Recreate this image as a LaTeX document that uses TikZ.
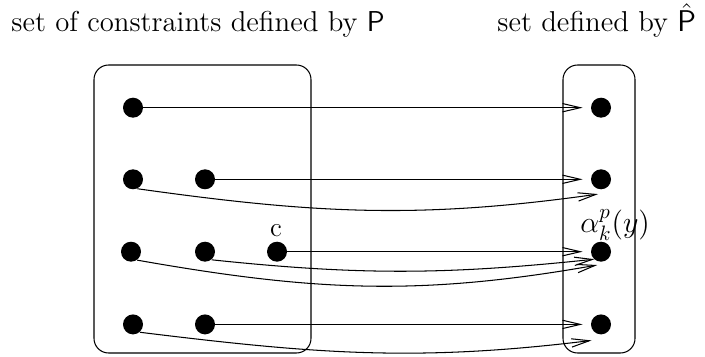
\documentclass[tikz,border=0pt]{standalone}
\usepackage{tikz}
\usetikzlibrary{arrows.meta}
\tikzset{
  dot/.style={circle, fill=black, inner sep=0pt, minimum size=9.6pt},
  arr/.style={-{Straight Barb[length=8.6pt,width=4pt]}, line width=0.5pt},
  setbox/.style={rounded corners=7pt, line width=0.5pt},
  title/.style={anchor=base west, inner sep=0pt, font=\fontsize{13.8}{16}\selectfont}
}
\begin{document}
\begin{tikzpicture}[x=0.48pt, y=0.48pt]
  \useasboundingbox (0,0) rectangle (705,356);

  %% ---- titles ----------------------------------------------------
  \node[title] (tl) at (11,324) {set of constraints defined by \textsf{P}};
  \node[title] (tr) at (497,324) {set defined by $\hat{\mathsf{P}}$};

  %% ---- the two sets ----------------------------------------------
  \draw[setbox] (94,3) rectangle (311,291);
  \draw[setbox] (563,3) rectangle (635,291);

  %% ---- left dots -------------------------------------------------
  \node[dot] (a1) at (133,248.3) {};
  \node[dot] (a2) at (133,176.7) {};
  \node[dot] (b2) at (205,176.7) {};
  \node[dot] (a3) at (131,104.3) {};
  \node[dot] (b3) at (205,104.3) {};
  \node[dot] (c3) at (277,104.3) {};
  \node[dot] (a4) at (133,31.6) {};
  \node[dot] (b4) at (205,31.6) {};
  \node[font=\fontsize{13}{14}\selectfont, inner sep=0pt] (cl) at (276,125) {c};

  %% ---- right dots ------------------------------------------------
  \node[dot] (r1) at (601,248.3) {};
  \node[dot] (r2) at (601,176.7) {};
  \node[dot] (r3) at (601,104.3) {};
  \node[dot] (r4) at (601,31.6) {};
  \node[title] (al) at (580,123) {$\alpha_k^p(y)$};

  %% ---- straight arrows -------------------------------------------
  \draw[arr, shorten >=3.8pt] (a1) -- (r1);
  \draw[arr, shorten >=3.8pt] (b2) -- (r2);
  \draw[arr, shorten >=3.8pt] (c3) -- (r3);
  \draw[arr, shorten >=3.8pt] (b4) -- (r4);

  %% ---- curved arrows ---------------------------------------------
  \draw[arr] (a2.-65) to[out=-8,in=188] ([shift={(-1.4pt,-7.1pt)}]r2.center);
  \draw[arr] (b3.-51) to[out=-6,in=186] ([shift={(-3.1pt,-3.6pt)}]r3.center);
  \draw[arr] (a3.-54) to[out=-10,in=190] ([shift={(-1.8pt,-6.4pt)}]r3.center);
  \draw[arr] (a4.-49) to[out=-7,in=187] ([shift={(-4.5pt,-7.7pt)}]r4.center);
\end{tikzpicture}
\end{document}
